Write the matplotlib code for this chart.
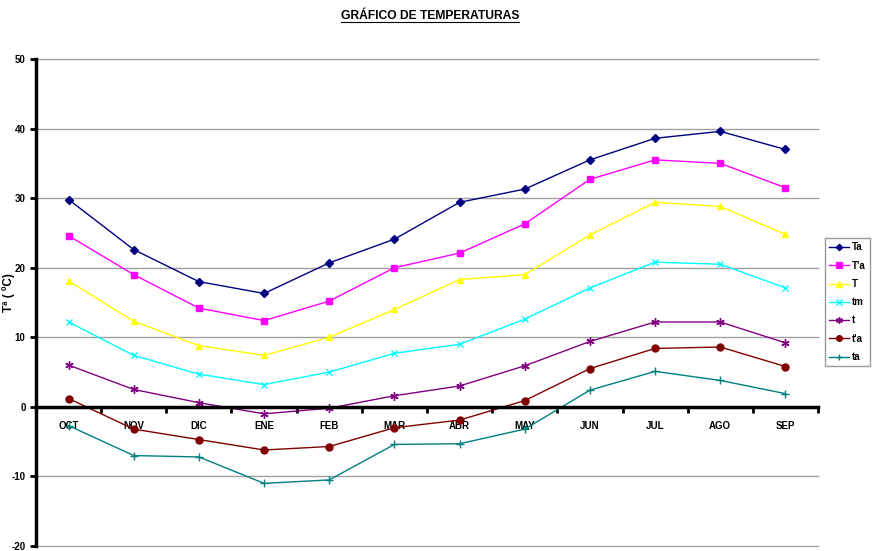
import matplotlib.pyplot as plt
import numpy as np

plt.rcParams['font.family'] = ['Liberation Sans', 'DejaVu Sans']
plt.rcParams['axes.unicode_minus'] = False

meses = ["OCT", "NOV", "DIC", "ENE", "FEB", "MAR", "ABR", "MAY", "JUN", "JUL", "AGO", "SEP"]

# temperaturas (ºC)
Ta = [29.8, 22.6, 18.0, 16.3, 20.7, 24.1, 29.4, 31.3, 35.5, 38.6, 39.6, 37.0]
Tpa = [24.6, 19.0, 14.2, 12.4, 15.2, 20.0, 22.1, 26.3, 32.7, 35.5, 35.0, 31.5]
T = [18.1, 12.3, 8.8, 7.4, 10.0, 14.0, 18.3, 19.0, 24.7, 29.4, 28.8, 24.8]
tm = [12.2, 7.4, 4.7, 3.2, 5.0, 7.7, 9.0, 12.6, 17.1, 20.8, 20.5, 17.1]
t = [6.0, 2.5, 0.6, -1.0, -0.2, 1.6, 3.0, 5.9, 9.4, 12.2, 12.2, 9.2]
tpa = [1.2, -3.2, -4.7, -6.2, -5.7, -3.0, -1.9, 0.9, 5.5, 8.4, 8.6, 5.8]
ta = [-2.7, -7.0, -7.2, -11.0, -10.5, -5.4, -5.3, -3.2, 2.4, 5.1, 3.8, 1.9]

series = [
    ("Ta", Ta, "#000080", "D", 4),
    ("T'a", Tpa, "#FF00FF", "s", 5),
    ("T", T, "#FFFF00", "^", 5),
    ("tm", tm, "#00FFFF", "x", 5),
    ("t", t, "#800080", (6, 2, 0), 6),
    ("t'a", tpa, "#800000", "o", 5),
    ("ta", ta, "#008080", "+", 6),
]

fig = plt.figure(figsize=(8.77, 5.51), dpi=100)
ax = fig.add_axes([36 / 877, 5 / 551, (818 - 36) / 877, (546 - 59) / 551])

x = np.arange(len(meses))
for nombre, vals, color, mk, ms in series:
    ax.plot(x, vals, color=color, marker=mk, markersize=ms, linewidth=1,
            markeredgewidth=1, label=nombre)

ax.set_xlim(-0.5, len(meses) - 0.5)
ax.set_ylim(-20, 50)
ax.set_yticks(range(-20, 51, 10))
ax.yaxis.grid(True, color="#A0A0A0", linewidth=1, clip_on=False)
ax.set_axisbelow(True)

for s in ["top", "right"]:
    ax.spines[s].set_visible(False)
ax.spines["left"].set_linewidth(2.5)
ax.spines["bottom"].set_position(("data", 0))
ax.spines["bottom"].set_linewidth(2.5)

ax.set_xticks(x)
ax.set_xticklabels(meses, fontsize=7, fontweight="bold")
ax.set_xticks(np.arange(-0.5, len(meses), 1), minor=True)
ax.tick_params(axis="x", which="major", length=0, pad=10)
ax.tick_params(axis="x", which="minor", length=4, width=2, direction="out")
ax.tick_params(axis="y", length=4, width=2, direction="out", labelsize=7)
for lbl in ax.get_yticklabels():
    lbl.set_fontweight("bold")

fig.text(9 / 877, 1 - 293 / 551, "Tª ( ºC)", rotation=90, ha="center", va="center",
         fontsize=8.5, fontweight="bold")

fig.text(430 / 877, 1 - 16 / 551, "GRÁFICO DE TEMPERATURAS", ha="center", va="center",
         fontsize=8.7, fontweight="bold")
fig.add_artist(plt.Line2D([341 / 877, 519 / 877], [1 - 22 / 551, 1 - 22 / 551],
                          color="black", linewidth=0.8))

leg = fig.legend(loc="upper left", bbox_to_anchor=(825 / 877, 1 - 238 / 551),
                 prop={"weight": "bold", "size": 7}, frameon=True,
                 fancybox=False, borderpad=0.45, labelspacing=0.85, handlelength=2,
                 handletextpad=0.3, borderaxespad=0, markerscale=0.8)
leg.get_frame().set_edgecolor("#808080")
leg.get_frame().set_facecolor("white")

fig.savefig("out.png", dpi=100)
